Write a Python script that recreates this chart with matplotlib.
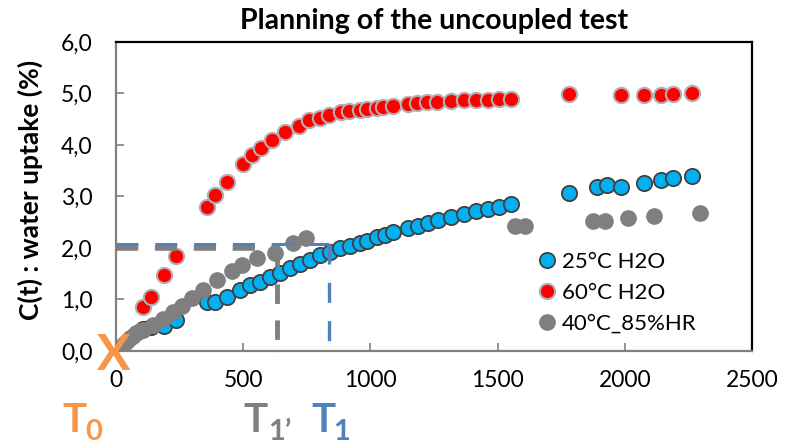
import numpy as np
import matplotlib
matplotlib.use('Agg')
import matplotlib.pyplot as plt

# --- datos ---
t_25 = [107, 136, 189, 236, 356, 389, 435, 487, 527, 566, 605, 645, 684, 723, 763,
        802, 841, 880, 920, 959, 985, 1025, 1057, 1090, 1149, 1188, 1228, 1267, 1316,
        1368, 1415, 1463, 1507, 1554, 1781, 1890, 1929, 1986, 2077, 2142, 2191, 2265]
c_25 = [0.43, 0.46, 0.48, 0.60, 0.96, 0.96, 1.05, 1.18, 1.28, 1.34, 1.44, 1.52, 1.61,
        1.69, 1.77, 1.86, 1.93, 1.99, 2.04, 2.09, 2.14, 2.21, 2.25, 2.31, 2.38, 2.43,
        2.49, 2.54, 2.60, 2.66, 2.72, 2.76, 2.80, 2.85, 3.06, 3.19, 3.22, 3.19, 3.26,
        3.31, 3.35, 3.40]

t_60 = [107, 136, 189, 236, 356, 391, 435, 499, 536, 571, 613, 663, 718, 757, 802,
        838, 883, 915, 959, 985, 1025, 1051, 1090, 1149, 1182, 1224, 1263, 1316, 1368,
        1415, 1463, 1507, 1554, 1781, 1986, 2077, 2142, 2191, 2265]
c_60 = [0.86, 1.05, 1.47, 1.84, 2.80, 3.03, 3.29, 3.63, 3.80, 3.94, 4.10, 4.26, 4.36,
        4.48, 4.52, 4.58, 4.63, 4.65, 4.68, 4.70, 4.72, 4.73, 4.76, 4.79, 4.81, 4.83,
        4.84, 4.86, 4.87, 4.87, 4.88, 4.89, 4.90, 4.98, 4.96, 4.97, 4.97, 4.99, 5.00]

t_40 = [5, 16, 30, 42, 55, 67, 80, 93, 107, 147, 186, 225, 258, 298, 343, 396, 455,
        494, 553, 625, 697, 747, 1568, 1608, 1876, 1922, 2011, 2115, 2296]
c_40 = [0.02, 0.08, 0.14, 0.20, 0.25, 0.30, 0.34, 0.38, 0.41, 0.50, 0.63, 0.76, 0.87,
        1.02, 1.18, 1.37, 1.56, 1.66, 1.80, 1.91, 2.10, 2.20, 2.43, 2.43, 2.53, 2.53,
        2.58, 2.62, 2.67]

# --- anotaciones (niveles y tiempos marcados) ---
NIVEL_T1 = 2.07
NIVEL_T1P = 2.00
T1 = 839
T1P = 632

y_ticks = [0, 1, 2, 3, 4, 5, 6]
x_ticks = [0, 500, 1000, 1500, 2000, 2500]

NARANJA = '#F79646'
GRIS = '#7F7F7F'
AZUL = '#4F81BD'

plt.rcParams['font.family'] = ['Lato', 'DejaVu Sans']

fig = plt.figure(figsize=(7.92, 4.46), dpi=100)
ax = fig.add_axes([0.1465, 0.213, 0.803, 0.693])

ms = 11
ax.plot(t_25, c_25, 'o', ms=ms, mfc='#00B0F0', mec='#404040', mew=1.3,
        label='25°C H2O', zorder=3)
ax.plot(t_60, c_60, 'o', ms=ms, mfc='#FF0000', mec='#B0B0B0', mew=1.5,
        label='60°C H2O', zorder=3)
ax.plot(t_40, c_40, 'o', ms=ms, mfc=GRIS, mec=GRIS, mew=1,
        label='40°C_85%HR', zorder=4)

# lineas discontinuas
ax.plot([0, T1P], [NIVEL_T1P, NIVEL_T1P], color=GRIS, lw=4.0,
        dashes=(4.0, 3.0), zorder=5, clip_on=False)
ax.plot([0, T1], [NIVEL_T1, NIVEL_T1], color=AZUL, lw=2.2,
        dashes=(7.2, 5.5), zorder=6, clip_on=False)
ax.plot([T1P, T1P], [NIVEL_T1P, -0.09], color=GRIS, lw=3.5,
        dashes=(4.0, 3.4), zorder=5, clip_on=False)
ax.plot([T1, T1], [NIVEL_T1, 0.08], color=AZUL, lw=2.4,
        dashes=(6.0, 5.5), zorder=6, clip_on=False)

ax.text(-8, 0.0, 'X', color=NARANJA, fontsize=36, fontweight='bold',
        ha='center', va='center_baseline', zorder=7, clip_on=False)

ax.set_xlim(0, 2500)
ax.set_ylim(0, 6)
ax.set_xticks(x_ticks)
ax.set_yticks(y_ticks)
ax.set_yticklabels([f'{v:.1f}'.replace('.', ',') for v in y_ticks])
ax.tick_params(direction='in', length=6, width=1.2, color='#808080',
               labelsize=16.5)
ax.tick_params(axis='y', pad=17)
ax.tick_params(axis='x', pad=14)

for lado in ['top', 'right']:
    ax.spines[lado].set_color('black')
    ax.spines[lado].set_linewidth(1.6)
for lado in ['left', 'bottom']:
    ax.spines[lado].set_color('#808080')
    ax.spines[lado].set_linewidth(1.6)

ax.set_title('Planning of the uncoupled test', fontsize=20.5, fontweight='bold', pad=9)
ax.set_ylabel('C(t) : water uptake (%)', fontsize=19, fontweight='bold')
ax.yaxis.set_label_coords(-0.115, 0.52)

ax.legend(loc='upper left', bbox_to_anchor=(0.646, 0.35), frameon=False,
          fontsize=16, handlelength=1.0, handletextpad=0.18, labelspacing=0.5,
          borderaxespad=0)

# etiquetas de tiempo bajo el eje
fig.text(62 / 792, 1 - 432 / 446, 'T', color=NARANJA, fontsize=29, fontweight='bold')
fig.text(85 / 792, 0.003, '0', color=NARANJA, fontsize=21, fontweight='bold', va='bottom')
fig.text(243 / 792, 1 - 432 / 446, 'T', color=GRIS, fontsize=29, fontweight='bold')
fig.text(268 / 792, 0.003, '1’', color=GRIS, fontsize=21, fontweight='bold', va='bottom')
fig.text(311 / 792, 1 - 432 / 446, 'T', color=AZUL, fontsize=29, fontweight='bold')
fig.text(333 / 792, 0.003, '1', color=AZUL, fontsize=21, fontweight='bold', va='bottom')

fig.savefig('out.png', dpi=100)
